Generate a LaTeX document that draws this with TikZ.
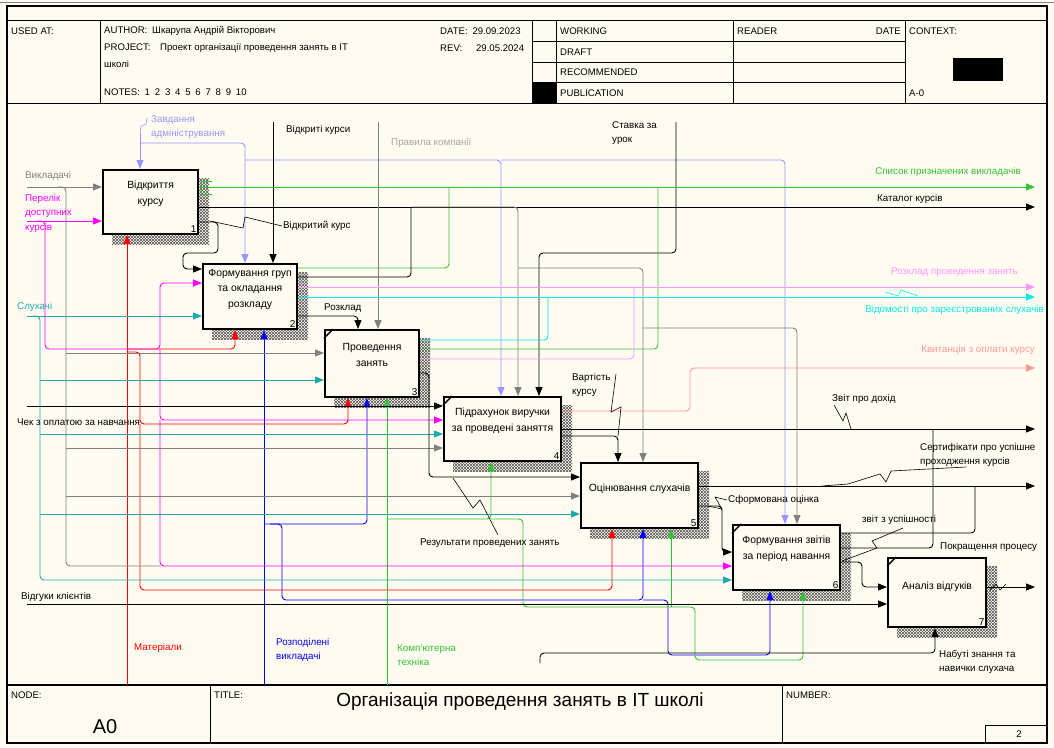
\documentclass[tikz,border=0pt]{standalone}
\usepackage{fontspec}
\setmainfont{Liberation Sans}
\usetikzlibrary{arrows.meta, positioning, patterns, backgrounds}

\definecolor{paper}{RGB}{255,251,240}
\definecolor{cgray}{RGB}{128,128,128}
\definecolor{cgrayl}{RGB}{165,165,165}
\definecolor{cmag}{RGB}{255,0,255}
\definecolor{clav}{RGB}{150,150,255}
\definecolor{cgreen}{RGB}{50,195,50}
\definecolor{cpink}{RGB}{255,150,255}
\definecolor{ccyan}{RGB}{0,235,235}
\definecolor{cteal}{RGB}{30,170,170}
\definecolor{csalmon}{RGB}{255,150,150}
\definecolor{cred}{RGB}{255,0,0}
\definecolor{cblue}{RGB}{0,0,255}

\newcommand{\lblfont}{\fontsize{9.8}{14.5}\selectfont}
\newcommand{\hdrfont}{\fontsize{9.6}{10}\selectfont}

\tikzset{
  fbox/.style={draw, line width=2.2pt, fill=paper, anchor=north west, inner sep=0pt},
  boxtxt/.style={font=\fontsize{10.4}{15.5}\selectfont, align=center, inner sep=0pt},
  boxnum/.style={font=\fontsize{10}{10}\selectfont, anchor=south east, inner sep=2.5pt},
  lbl/.style={font=\lblfont, align=left, inner sep=1pt, anchor=west},
  hdr/.style={font=\hdrfont, inner sep=0pt, anchor=west},
  flow/.style={line width=0.9pt, rounded corners=4pt, -{Triangle[length=9pt,width=7pt]}},
  plain/.style={line width=0.9pt, rounded corners=4pt},
  leader/.style={line width=0.6pt},
  tunnel/.style={line width=1.4pt}
}

\begin{document}
\begin{tikzpicture}[x=1pt, y=-1pt]
  \useasboundingbox (0,0) rectangle (1054,747);
  \begin{scope}[on background layer]
    \fill[paper] (0,0) rectangle (1054,747);
  \end{scope}

  % рамка і шапка
  \draw[cgray, line width=1pt] (0,2.5) -- (1054,2.5);
  \draw[line width=1.2pt] (7,6) rectangle (1047,743);
  \draw[line width=1pt] (7,20) -- (1047,20) (7,103) -- (1047,103);
  \draw[line width=1pt] (100,20) -- (100,103) (532,20) -- (532,103) (556,20) -- (556,103)
    (733,20) -- (733,103) (905,20) -- (905,103);
  \draw[line width=1pt] (532,41) -- (905,41) (532,62) -- (905,62) (532,82) -- (905,82);
  \fill (532,82) rectangle (556,103);
  \fill (953,58) rectangle (1003,81);

  \node[hdr] (usedat) at (11,31) {USED AT:};
  \node[hdr] (author) at (104,31) {AUTHOR:\enspace Шкарупа Андрій Вікторович};
  \node[hdr] (project) at (104,48) {PROJECT:\quad Проект організації проведення занять в IT};
  \node[hdr] (project2) at (104,64) {школі};
  \node[hdr] (notes) at (104,92) {NOTES:\enspace 1\enspace 2\enspace 3\enspace 4\enspace 5\enspace 6\enspace 7\enspace 8\enspace 9\enspace 10};
  \node[hdr] (date) at (440,31) {DATE:\enspace 29.09.2023};
  \node[hdr] (rev) at (440,48) {REV:\quad\, 29.05.2024};
  \node[hdr] (working) at (560,31) {WORKING};
  \node[hdr] (draft) at (560,52) {DRAFT};
  \node[hdr] (recomm) at (560,72) {RECOMMENDED};
  \node[hdr] (publ) at (560,93) {PUBLICATION};
  \node[hdr] (reader) at (737,31) {READER};
  \node[hdr, anchor=east] (rdate) at (901,31) {DATE};
  \node[hdr] (context) at (909,31) {CONTEXT:};
  \node[hdr] (ctxnode) at (909,93) {A-0};

  % підвал
  \draw[line width=1.2pt] (7,685) -- (1047,685);
  \draw[line width=1pt] (210,685) -- (210,743) (782,685) -- (782,743);
  \draw[line width=1pt] (985,725) rectangle (1047,743);
  \node[hdr] (nodelbl) at (11,695) {NODE:};
  \node[hdr] (titlelbl) at (214,695) {TITLE:};
  \node[hdr] (numlbl) at (786,695) {NUMBER:};
  \node[font=\fontsize{20}{22}\selectfont] (nodeid) at (105,727) {A0};
  \node[font=\fontsize{19}{21}\selectfont] (title) at (520,702) {Організація проведення занять в IT школі};
  \node[hdr, anchor=center] (pagenum) at (1019,734) {2};

  % функціональні блоки
  \node[fbox, minimum width=95pt, minimum height=64pt] (b1) at (102,169) {};
  \node[fbox, minimum width=94pt, minimum height=65pt] (b2) at (202,263) {};
  \node[fbox, minimum width=94pt, minimum height=67pt] (b3) at (324,329) {};
  \node[fbox, minimum width=117pt, minimum height=64pt] (b4) at (443,396) {};
  \node[fbox, minimum width=117pt, minimum height=65pt] (b5) at (580,462) {};
  \node[fbox, minimum width=107pt, minimum height=65pt] (b6) at (732,524) {};
  \node[fbox, minimum width=98pt, minimum height=69pt] (b7) at (887,557) {};

  \begin{scope}[on background layer]
    \foreach \b in {b1,b2,b3,b4,b5,b6,b7} {
      \fill[pattern=north east lines, pattern color=black!65]
        ([shift={(10pt,-9pt)}]\b.north west) rectangle ([shift={(10pt,-9pt)}]\b.south east);
      \fill[pattern=north west lines, pattern color=black!65]
        ([shift={(10pt,-9pt)}]\b.north west) rectangle ([shift={(10pt,-9pt)}]\b.south east);
    }
  \end{scope}

  \foreach \b in {b3,b4,b6,b7}
    \draw[tunnel] ([yshift=-9pt]\b.north west) -- ([xshift=9pt]\b.north west);

  \node[boxtxt] (t1) at (b1.north |- 0,194) {Відкриття\\курсу};
  \node[boxtxt] (t2) at (b2.north |- 0,289) {Формування груп\\та окладання\\розкладу};
  \node[boxtxt] (t3) at (b3.north |- 0,355) {Проведення\\занять};
  \node[boxtxt] (t4) at (b4.north |- 0,421) {Підрахунок виручки\\за проведені заняття};
  \node[boxtxt] (t5) at (b5.north |- 0,489) {Оцінювання слухачів};
  \node[boxtxt] (t6) at (b6.north |- 0,549) {Формування звітів\\за період навання};
  \node[boxtxt] (t7) at (b7.north |- 0,587) {Аналіз відгуків};
  \foreach \b/\n in {b1/1,b2/2,b3/3,b4/4,b5/5,b6/6,b7/7}
    \node[boxnum] at (\b.south east) {\n};

  % межові точки
  \coordinate (vyklIn) at (27,187);
  \coordinate (perIn) at (27,221);
  \coordinate (sluhIn) at (27,316);
  \coordinate (chekIn) at (27,406);
  \coordinate (vidgIn) at (27,604);
  \coordinate (zavdIn) at (140,133);
  \coordinate (vidkrIn) at (273,122);
  \coordinate (pravIn) at (378,122);
  \coordinate (stavIn) at (676,122);
  \coordinate (matIn) at (127,685);
  \coordinate (rozIn) at (264,685);
  \coordinate (kompIn) at (387,685);
  \coordinate (nabIn) at (540,663);
  \coordinate (spysOut) at (1035,187);
  \coordinate (katOut) at (1035,207);
  \coordinate (rozkOut) at (1035,287);
  \coordinate (vidomOut) at (1035,297);
  \coordinate (kvytOut) at (1035,368);
  \coordinate (zvitOut) at (1035,429);
  \coordinate (sertOut) at (1035,486);
  \coordinate (pokrOut) at (1035,587);

  % механізми
  \draw[flow, cred] (matIn) -- (b1.south -| matIn);
  \draw[flow, cred] (127,349) -| (b2.south -| 235,0);
  \draw[flow, cred] (127,352) -| (140,424) -| (b3.south -| 348,0);
  \draw[flow, cred] (140,424) |- (612,590) -- (b5.south -| 612,0);

  \draw[flow, cblue] (rozIn) -- (b2.south -| rozIn);
  \draw[flow, cblue] (264,524) -| (b3.south -| 367,0);
  \draw[flow, cblue] (270,524) -| (282,600) -| (b5.south -| 643,0);
  \draw[flow, cblue] (643,600) -| (668,655) -| (b6.south -| 770,0);

  \draw[flow, cgreen] (kompIn) -- (b3.south -| kompIn);
  \draw[flow, cgreen] (387,519) -| (b4.south -| 491,0);
  \draw[flow, cgreen] (491,519) -| (523,607) -| (695,660) -| (b6.south -| 803,0);
  \draw[flow, cgreen] (671,607) -- (b5.south -| 671,0);

  \draw[flow] (nabIn) |- (935,653) -- (b7.south -| 935,0);

  % входи
  \draw[flow, cgray] (vyklIn) -- (b1.west |- vyklIn);
  \draw[plain, cgray] (58,187) -| (66,566) -- (160,566);
  \draw[flow, cgray] (66,353) -- (b3.west |- 0,353);
  \draw[flow, cgray] (66,448) -- (b4.west |- 0,448);
  \draw[flow, cgray] (66,496) -- (b5.west |- 0,496);

  \draw[flow, cteal] (sluhIn) -- (b2.west |- sluhIn);
  \draw[flow, cteal] (33,316) -| (40,580) -- (b6.west |- 0,580);
  \draw[flow, cteal] (40,380) -- (b3.west |- 0,380);
  \draw[flow, cteal] (40,434) -- (b4.west |- 0,434);
  \draw[flow, cteal] (40,514) -- (b5.west |- 0,514);

  \draw[flow, cmag] (perIn) -- (b1.west |- perIn);
  \draw[flow, cmag] (38,221) -| (45,349) -| (160,283) -- (b2.west |- 0,283);
  \draw[flow, cmag] (160,349) |- (b4.west |- 0,420);
  \draw[flow, cmag] (160,420) |- (b6.west |- 0,566);

  \draw[flow] (chekIn) -- (b4.west |- chekIn);
  \draw[flow] (vidgIn) -- (b7.west |- vidgIn);

  % управління
  \draw[flow, clav] (zavdIn) -- (b1.north -| zavdIn);
  \draw[flow, clav] (140,143) -| (b2.north -| 245,0);
  \draw[flow, clav] (245,160) -| (b4.north -| 501,0);
  \draw[flow, clav] (501,160) -| (b6.north -| 785,0);

  \draw[flow] (vidkrIn) -- (b2.north -| vidkrIn);
  \draw[flow] (stavIn) |- (539,253) -- (b4.north -| 539,0);

  % виходи
  \draw[flow, cgreen] (b1.east |- spysOut) -- (spysOut);
  \draw[cgreen, line width=0.8pt] (212,181) -- (201,181) -- (201,185) (201,190) -- (201,194) -- (212,194);
  \draw[plain, cgreen] (b2.east |- 0,268) -| (449,187);
  \draw[plain, cgreen] (b3.east |- 0,349) -| (658,187);

  \draw[flow] (b1.east |- katOut) -- (katOut);
  \draw[plain] (b2.east |- 0,277) -| (411,207);

  \draw[flow, cgray] (pravIn) -- (b3.north -| pravIn);
  \draw[flow, cgray] (412,207) -| (b4.north -| 518,0);
  \draw[flow, cgray] (518,268) -| (b5.north -| 643,0);
  \draw[flow, cgray] (643,328) -| (b6.north -| 797,0);

  \draw[flow] (b1.east |- 0,222) -| (218,253) -| (183,269) -- (b2.west |- 0,269);

  \draw[flow, cpink] (b2.east |- rozkOut) -- (rozkOut);
  \draw[plain, cpink] (b3.east |- 0,359) -| (634,287);
  \draw[flow, ccyan] (b2.east |- vidomOut) -- (vidomOut);
  \draw[plain, ccyan] (b3.east |- 0,340) -| (548,297);
  \draw[flow] (b2.east |- 0,316) -| (b3.north -| 358,0);

  \draw[flow] (b3.east |- 0,373) -| (429,477) -- (b5.west |- 0,477);

  \draw[flow, csalmon] (b4.east |- 0,411) -| (690,368) -- (kvytOut);
  \draw[flow] (b4.east |- zvitOut) -- (zvitOut);
  \draw[flow] (b4.east |- 0,436) -| (b5.north -| 618,0);

  \draw[flow] (b5.east |- sertOut) -- (sertOut);
  \draw[flow] (b5.east |- 0,506) -| (722,552) -- (b6.west |- 0,552);

  \draw[plain] (b6.east |- 0,533) -| (975,486);
  \draw[plain] (b6.east |- 0,548) -| (933,429);
  \draw[flow] (b6.east |- 0,562) -| (862,587) -- (b7.west |- 0,587);

  \draw[flow] (b7.east |- pokrOut) -- (pokrOut);

  % підписи стрілок
  \node[lbl, text=cgray] (lVykl) at (24,176) {Викладачі};
  \node[lbl, text=cmag] (lPer) at (24,213) {Перелік\\доступних\\курсів};
  \node[lbl, text=cteal] (lSluh) at (16,307) {Слухачі};
  \node[lbl] (lChek) at (16,422) {Чек з оплатою за навчання};
  \node[lbl] (lVidg) at (20,597) {Відгуки клієнтів};
  \node[lbl, text=cred] (lMat) at (133,648) {Матеріали};
  \node[lbl, text=cblue] (lRoz) at (275,650) {Розподілені\\викладачі};
  \node[lbl, text=cgreen] (lKomp) at (396,655) {Комп'ютерна\\техніка};
  \node[lbl, text=clav] (lZavd) at (150,127) {Завдання\\адміністрування};
  \node[lbl] (lVidkr) at (285,130) {Відкриті курси};
  \node[lbl, text=cgrayl] (lPrav) at (390,143) {Правила компанії};
  \node[lbl] (lStav) at (611,133) {Ставка за\\урок};
  \node[lbl] (lVk) at (282,226) {Відкритий курс};
  \node[lbl] (lRozkl) at (323,308) {Розклад};
  \node[lbl, text=cgreen, anchor=east] (lSpys) at (1022,172) {Список призначених викладачів};
  \node[lbl] (lKat) at (876,199) {Каталог курсів};
  \node[lbl, text=cpink, anchor=east] (lRozk) at (1019,272) {Розклад проведення занять};
  \node[lbl, text=ccyan, anchor=east] (lVidom) at (1045,310) {Відомості про зареєстрованих слухачів};
  \node[lbl, text=csalmon, anchor=east] (lKvyt) at (1036,350) {Квитанція з оплати курсу};
  \node[lbl] (lVart) at (571,385) {Вартість\\курсу};
  \node[lbl] (lZvit) at (831,399) {Звіт про дохід};
  \node[lbl] (lSert) at (919,455) {Сертифікати про успішне\\проходження курсів};
  \node[lbl] (lRez) at (419,543) {Результати проведених занять};
  \node[lbl] (lSform) at (727,500) {Сформована оцінка};
  \node[lbl] (lUsp) at (861,520) {звіт з успішності};
  \node[lbl] (lPokr) at (939,547) {Покращення процесу};
  \node[lbl] (lNab) at (938,662) {Набуті знання та\\навички слухача};

  % виноски
  \draw[leader, clav] (zavdIn) -- (141,126) -- (146,124) -- (147,118);
  \draw[leader] (lVk.west) -- (245,217) -- (243,228) -- (210,221);
  \draw[leader, ccyan] (885,292) -- (898,296) -- (901,290) -- (918,296);
  \draw[leader] (834,405) -- (843,421) -- (846,413) -- (851,429);
  \draw[leader] (616,374) -- (611,412) -- (621,407) -- (618,436);
  \draw[leader] (453,478) -- (473,508) -- (480,500) -- (498,535);
  \draw[leader] (966,467) -- (891,471) -- (886,482) -- (880,474) -- (848,484) -- (822,486);
  \draw[leader] (lSform.west) -- (715,497) -- (722,509) -- (708,506);
  \draw[leader] (903,528) -- (872,541) -- (877,548) -- (842,561);
  \draw[leader] (990,590) -- (996,584) -- (1000,590) -- (1006,584);
\end{tikzpicture}
\end{document}
